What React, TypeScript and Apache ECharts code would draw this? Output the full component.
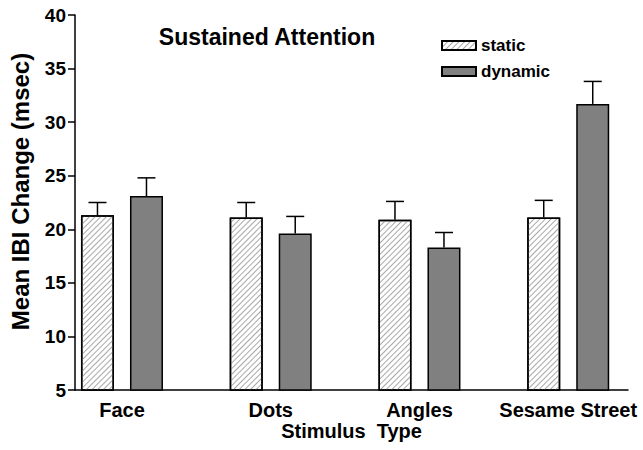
import React, { useEffect, useRef } from "react";
import * as echarts from "echarts";

const categories = ["Face", "Dots", "Angles", "Sesame Street"];
const staticMeans = [21.3, 21.1, 20.9, 21.1];
const staticErrTop = [22.5, 22.5, 22.6, 22.7];
const dynamicMeans = [23.1, 19.6, 18.3, 31.7];
const dynamicErrTop = [24.8, 21.2, 19.7, 33.8];
const yTicks = [5, 10, 15, 20, 25, 30, 35, 40];

const FONT = "'Liberation Sans', Arial, Helvetica, sans-serif";
const BAR_W = 33;
const GAP_PX = 16;
const OFFSET = (BAR_W + GAP_PX) / 2;

function errSeries(name: string, means: number[], tops: number[], dir: number) {
  return {
    type: "custom",
    name: name + "-err",
    xAxisIndex: 0,
    yAxisIndex: 0,
    silent: true,
    z: 1,
    data: means.map((m, i) => [i, m, tops[i]]),
    renderItem: (params: any, api: any) => {
      const base = api.coord([api.value(0), api.value(1)]);
      const top = api.coord([api.value(0), api.value(2)]);
      const x = base[0] + dir * OFFSET;
      return {
        type: "group",
        children: [
          {
            type: "line",
            shape: { x1: x, y1: base[1], x2: x, y2: top[1] },
            style: { stroke: "#000", lineWidth: 1.5 },
          },
          {
            type: "line",
            shape: { x1: x - 9, y1: top[1], x2: x + 9, y2: top[1] },
            style: { stroke: "#000", lineWidth: 1.5 },
          },
        ],
      };
    },
  };
}

export default function App() {
  const ref = useRef<HTMLDivElement>(null);
  useEffect(() => {
    if (!ref.current) return;
    const chart = echarts.init(ref.current, null, { renderer: "svg" });
    const labelStyle = { fontFamily: FONT, fontWeight: "bold", color: "#000" };
    chart.setOption({
      animation: false,
      backgroundColor: "#fff",
      title: {
        text: "Sustained Attention",
        left: 262,
        top: 20,
        textAlign: "center",
        textStyle: { ...labelStyle, fontSize: 23 },
      },
      legend: {
        orient: "vertical",
        left: 436,
        top: 32,
        itemWidth: 34,
        itemHeight: 9,
        itemGap: 9,
        icon: "rect",
        data: ["static", "dynamic"],
        textStyle: { ...labelStyle, fontSize: 17 },
      },
      grid: [
        { left: 47.6, top: 15, bottom: 60, width: 595 },
        { left: 63, top: 15, bottom: 60, width: 565 },
      ],
      xAxis: [
        {
          type: "category",
          gridIndex: 0,
          data: categories,
          axisLine: { show: false },
          axisTick: { show: false },
          splitLine: { show: false },
          axisLabel: { ...labelStyle, fontSize: 20, margin: 10, interval: 0 },
        },
        {
          type: "value",
          gridIndex: 1,
          min: 0,
          max: 1,
          name: "Stimulus  Type",
          nameLocation: "middle",
          nameGap: 31,
          nameTextStyle: { ...labelStyle, fontSize: 20, verticalAlign: "top" },
          axisLine: { show: true, onZero: false, lineStyle: { color: "#000", width: 1.5 } },
          axisTick: { show: false },
          splitLine: { show: false },
          axisLabel: { show: false },
        },
      ],
      yAxis: [
        {
          type: "value",
          gridIndex: 0,
          min: 5,
          max: 40,
          show: false,
        },
        {
          type: "value",
          gridIndex: 1,
          min: 5,
          max: 40,
          interval: 5,
          name: "Mean IBI Change (msec)",
          nameLocation: "middle",
          nameGap: 43,
          nameTextStyle: { ...labelStyle, fontSize: 24, padding: [0, 0, 0, 22] },
          axisLine: { show: true, onZero: false, lineStyle: { color: "#000", width: 1.5 } },
          axisTick: { show: true, length: 7, lineStyle: { color: "#000", width: 1.5 } },
          splitLine: { show: false },
          axisLabel: { ...labelStyle, fontSize: 19, margin: 9, customValues: yTicks },
        },
      ],
      series: [
        {
          type: "bar",
          name: "static",
          xAxisIndex: 0,
          yAxisIndex: 0,
          barWidth: BAR_W,
          barGap: (GAP_PX / BAR_W) * 100 + "%",
          data: staticMeans,
          itemStyle: {
            color: "#fff",
            borderColor: "#000",
            borderWidth: 1.5,
            decal: {
              symbol: "rect",
              symbolSize: 1,
              color: "#a8a8a8",
              dashArrayX: [1, 0],
              dashArrayY: [1, 2.2],
              rotation: -Math.PI / 4,
            },
          },
          z: 2,
        },
        {
          type: "bar",
          name: "dynamic",
          xAxisIndex: 0,
          yAxisIndex: 0,
          barWidth: BAR_W,
          data: dynamicMeans,
          itemStyle: { color: "#808080", borderColor: "#000", borderWidth: 1.5 },
          z: 2,
        },
        errSeries("static", staticMeans, staticErrTop, -1),
        errSeries("dynamic", dynamicMeans, dynamicErrTop, 1),
      ],
    });
    return () => chart.dispose();
  }, []);
  return <div ref={ref} style={{ width: 643, height: 450, position: "absolute", left: 0, top: 0 }} />;
}
